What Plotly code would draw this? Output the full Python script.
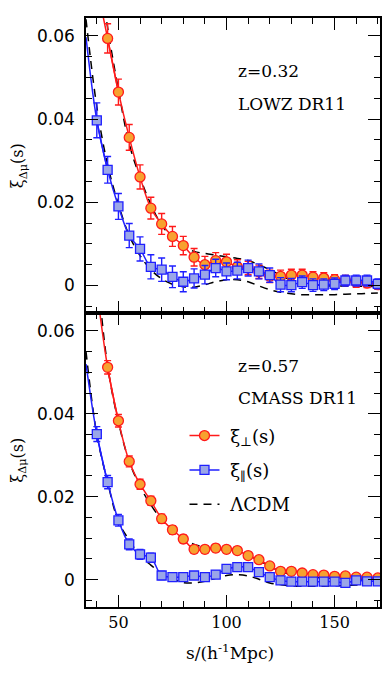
import plotly.graph_objects as go

# ---------------- data ----------------
s_perp = [45, 50, 55, 60, 65, 70, 75, 80, 85, 90, 95, 100, 105, 110, 115, 120, 125,
          130, 135, 140, 145, 150, 155, 160, 165, 170]
s_par = [40] + s_perp
s_model = [35, 40, 45, 50, 55, 60, 65, 70, 75, 80, 85, 90, 95, 100, 105, 110, 115, 120,
           125, 130, 135, 140, 145, 150, 155, 160, 165, 170]

# LOWZ DR11 (z=0.32)
lowz_perp = [0.0594, 0.0465, 0.0356, 0.0261, 0.0186, 0.0148, 0.0118, 0.0096, 0.0068, 0.0050,
             0.0060, 0.0057, 0.0045, 0.0042, 0.0033, 0.0022, 0.0022, 0.0025, 0.0025, 0.0020,
             0.0018, 0.0014, 0.0012, 0.0008, 0.0006, 0.0002]
lowz_perp_err = [0.0035, 0.0031, 0.0031, 0.0029, 0.0026, 0.0025, 0.0024, 0.0022, 0.0021, 0.0020,
                 0.0019, 0.0018, 0.0017, 0.0016, 0.0016, 0.0015, 0.0015, 0.0014, 0.0014, 0.0013,
                 0.0013, 0.0012, 0.0012, 0.0012, 0.0011, 0.0011]
lowz_par = [0.0397, 0.0278, 0.0190, 0.0120, 0.0088, 0.0045, 0.0038, 0.0021, 0.0009, 0.0017,
            0.0026, 0.0042, 0.0034, 0.0036, 0.0042, 0.0034, 0.0025, 0.0002, 0.0001, 0.0008,
            0.0001, 0.0002, 0.0004, 0.0012, 0.0012, 0.0012, 0.0004]
lowz_par_err = [0.0042, 0.0032, 0.0031, 0.0029, 0.0029, 0.0029, 0.0028, 0.0026, 0.0024, 0.0023,
                0.0022, 0.0021, 0.0020, 0.0020, 0.0019, 0.0018, 0.0017, 0.0017, 0.0016, 0.0015,
                0.0015, 0.0014, 0.0014, 0.0013, 0.0013, 0.0013, 0.0012]
lowz_perp_fit_start = [40, 0.0720]   # fit line continuation beyond first point
lowz_par_fit_start = [35, 0.0597]
lowz_lcdm_perp = [0.100, 0.080, 0.062, 0.047, 0.034, 0.026, 0.0195, 0.0145, 0.0115, 0.0092,
                  0.0082, 0.0077, 0.0073, 0.0069, 0.0065, 0.0060, 0.0050, 0.0038, 0.0025, 0.0012,
                  0.0005, 0.0002, 0.0000, -0.0001, -0.0001, -0.0002, -0.0002, -0.0003]
lowz_lcdm_par = [0.064, 0.043, 0.029, 0.0195, 0.012, 0.0072, 0.0038, 0.0016, 0.0003, -0.0003,
                 -0.0004, 0.0002, 0.0009, 0.0014, 0.0014, 0.0009, -0.0001, -0.0010, -0.0016,
                 -0.0020, -0.0022, -0.0022, -0.0022, -0.0022, -0.0021, -0.0020, -0.0019, -0.0018]

# CMASS DR11 (z=0.57)
cmass_perp = [0.0512, 0.0383, 0.0285, 0.0230, 0.0190, 0.0147, 0.0120, 0.0098, 0.0073, 0.0073,
              0.0076, 0.0073, 0.0070, 0.0058, 0.0048, 0.0033, 0.0020, 0.0020, 0.0016, 0.0012,
              0.0011, 0.0008, 0.0009, 0.0006, 0.0006, 0.0004]
cmass_perp_err = [0.0016, 0.0015, 0.0013, 0.0012, 0.0011, 0.0011, 0.0010, 0.0010, 0.0009, 0.0009,
                  0.0009, 0.0009, 0.0008, 0.0008, 0.0008, 0.0008, 0.0008, 0.0008, 0.0007, 0.0007,
                  0.0007, 0.0007, 0.0007, 0.0007, 0.0007, 0.0007]
cmass_par = [0.0351, 0.0235, 0.0143, 0.0085, 0.0061, 0.0053, 0.0010, 0.0006, 0.0006, 0.0010,
             0.0006, 0.0012, 0.0026, 0.0030, 0.0030, 0.0018, 0.0006, -0.0002, -0.0005, -0.0005,
             -0.0005, -0.0005, -0.0005, -0.0008, -0.0002, -0.0004, -0.0004]
cmass_par_err = [0.0018, 0.0016, 0.0014, 0.0013, 0.0012, 0.0011, 0.0010, 0.0010, 0.0009, 0.0009,
                 0.0009, 0.0009, 0.0008, 0.0008, 0.0008, 0.0008, 0.0008, 0.0008, 0.0008, 0.0007,
                 0.0007, 0.0007, 0.0007, 0.0007, 0.0007, 0.0007, 0.0007]
cmass_perp_fit_start = [40, 0.0700]
cmass_par_fit_start = [35, 0.0520]
cmass_lcdm_perp = [0.100, 0.075, 0.0515, 0.038, 0.0285, 0.0225, 0.018, 0.0145, 0.0118, 0.0098,
                   0.0085, 0.0078, 0.0074, 0.0071, 0.0066, 0.0058, 0.0046, 0.0032, 0.0020, 0.0012,
                   0.0008, 0.0006, 0.0004, 0.0003, 0.0002, 0.0002, 0.0001, 0.0001]
cmass_lcdm_par = [0.055, 0.035, 0.0235, 0.014, 0.0095, 0.0058, 0.0035, 0.0015, 0.0002, -0.0007,
                  -0.0008, -0.0004, 0.0003, 0.0010, 0.0012, 0.0009, 0.0001, -0.0008, -0.0012,
                  -0.0015, -0.0016, -0.0016, -0.0016, -0.0015, -0.0014, -0.0013, -0.0012, -0.0012]

y_tickvals = [0, 0.02, 0.04, 0.06]
y_ticktext = ["0", "0.02", "0.04", "0.06"]
x_tickvals = [50, 100, 150]

panel_text = [("z=0.32", "LOWZ DR11"), ("z=0.57", "CMASS DR11")]

# ---------------- style ----------------
RED = "#ff1a1a"
ORANGE = "#f7a12f"
BLUE = "#1f1fff"
LBLUE = "#9aa6e8"
SERIF = "DejaVu Serif"
SANS = "DejaVu Sans"
NB = "\u00a0"

fig = go.Figure()


def add_panel(xa, ya, perp, perr, par, parerr, pstart, qstart, lperp, lpar, legend):
    # model dashed lines
    fig.add_trace(go.Scatter(x=s_model, y=lpar, mode="lines", xaxis=xa, yaxis=ya,
                             line=dict(color="black", width=1.5, dash="8px,6px", shape="spline"),
                             showlegend=False, hoverinfo="skip"))
    fig.add_trace(go.Scatter(x=s_model, y=lperp, mode="lines", xaxis=xa, yaxis=ya,
                             name=NB + "ΛCDM", legendgroup="c", legendrank=3,
                             line=dict(color="black", width=1.5, dash="8px,6px", shape="spline"),
                             showlegend=legend, hoverinfo="skip"))
    # fit line continuations
    fig.add_trace(go.Scatter(x=[pstart[0], s_perp[0], s_perp[1]], y=[pstart[1], perp[0], perp[1]],
                             mode="lines", xaxis=xa, yaxis=ya,
                             line=dict(color=RED, width=1.5, shape="spline"), showlegend=False))
    fig.add_trace(go.Scatter(x=[qstart[0], s_par[0], s_par[1]], y=[qstart[1], par[0], par[1]],
                             mode="lines", xaxis=xa, yaxis=ya,
                             line=dict(color=BLUE, width=1.5, shape="spline"), showlegend=False))
    # data
    fig.add_trace(go.Scatter(x=s_perp, y=perp, mode="lines+markers", xaxis=xa, yaxis=ya,
                             name=NB + "ξ<sub>⊥</sub>(s)", legendgroup="a", legendrank=1,
                             line=dict(color=RED, width=1.5, shape="spline"),
                             marker=dict(symbol="circle", size=10, color=ORANGE,
                                         line=dict(color=RED, width=1.3)),
                             error_y=dict(type="data", array=perr, color=RED, thickness=1.4, width=3.5),
                             showlegend=legend))
    fig.add_trace(go.Scatter(x=s_par, y=par, mode="lines+markers", xaxis=xa, yaxis=ya,
                             name=NB + "ξ<sub>∥</sub>(s)", legendgroup="b", legendrank=2,
                             line=dict(color=BLUE, width=1.5, shape="spline"),
                             marker=dict(symbol="square", size=9, color=LBLUE,
                                         line=dict(color=BLUE, width=1.3)),
                             error_y=dict(type="data", array=parerr, color=BLUE, thickness=1.4, width=3.5),
                             showlegend=legend))


add_panel("x2", "y2", lowz_perp, lowz_perp_err, lowz_par, lowz_par_err,
          lowz_perp_fit_start, lowz_par_fit_start, lowz_lcdm_perp, lowz_lcdm_par, False)
add_panel("x", "y", cmass_perp, cmass_perp_err, cmass_par, cmass_par_err,
          cmass_perp_fit_start, cmass_par_fit_start, cmass_lcdm_perp, cmass_lcdm_par, True)

XR = [35, 171]
YR = [-0.0066, 0.0643]
split = 0.4992

common_x = dict(range=XR, showline=True, linecolor="black", linewidth=1.6, mirror="allticks",
                ticks="inside", ticklen=12, tickwidth=1.3, tickcolor="black",
                tickvals=x_tickvals, showgrid=False, zeroline=False,
                minor=dict(dtick=10, tick0=0, ticks="inside", ticklen=6, tickwidth=1.3,
                           tickcolor="black", showgrid=False),
                tickfont=dict(family=SERIF, size=16, color="black"))
common_y = dict(range=YR, showline=True, linecolor="black", linewidth=1.6, mirror="allticks",
                ticks="inside", ticklen=12, tickwidth=1.3, tickcolor="black",
                tickvals=y_tickvals, ticktext=y_ticktext, showgrid=False, zeroline=False,
                minor=dict(dtick=0.005, tick0=0, ticks="inside", ticklen=6, tickwidth=1.3,
                           tickcolor="black", showgrid=False),
                ticklabelstandoff=6,
                tickfont=dict(family=SANS, size=17, color="black"))

# page body has an 8px margin: figure sized/offset to compensate
fig.update_layout(
    width=382, height=684,
    margin=dict(l=78, r=9, t=8, b=85),
    paper_bgcolor="white", plot_bgcolor="white",
    xaxis=dict(anchor="y", **common_x),
    xaxis2=dict(anchor="y2", matches="x", showticklabels=False, **common_x),
    yaxis=dict(domain=[0, split], anchor="x", **common_y),
    yaxis2=dict(domain=[split, 1], anchor="x2", **common_y),
    legend=dict(x=0.335, y=0.322, xanchor="left", yanchor="top", bgcolor="rgba(0,0,0,0)",
                font=dict(family=SERIF, size=18, color="black"), tracegroupgap=8,
                traceorder="grouped"),
    showlegend=True,
)

ann = []
for i, (zt, st) in enumerate(panel_text):
    yref = "y2 domain" if i == 0 else "y domain"
    ann.append(dict(text=zt, x=0.51, y=0.82, xref="x domain", yref=yref, showarrow=False,
                    xanchor="left", yanchor="middle", font=dict(family=SERIF, size=17, color="black")))
    ann.append(dict(text=st, x=0.51, y=0.71, xref="x domain", yref=yref, showarrow=False,
                    xanchor="left", yanchor="middle", font=dict(family=SERIF, size=17, color="black")))
    ann.append(dict(text="ξ<sub>Δμ</sub>(s)", x=-0.229, y=0.5, xref="paper", yref=yref,
                    showarrow=False, textangle=-90, xanchor="center", yanchor="middle",
                    font=dict(family=SERIF, size=16, color="black")))
ann.append(dict(text="s/(h<sup>-1</sup>Mpc)", x=0.49, y=-0.076, xref="paper", yref="paper",
                showarrow=False, xanchor="center", yanchor="middle",
                font=dict(family=SERIF, size=17, color="black")))
fig.update_layout(annotations=ann)

fig.write_html("out.html")
